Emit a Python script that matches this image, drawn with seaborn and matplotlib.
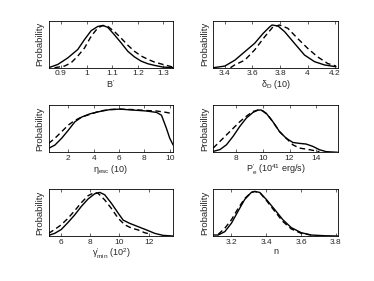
import numpy as np
import pandas as pd
import seaborn as sns
import matplotlib
matplotlib.use("Agg")
import matplotlib.pyplot as plt

# ---- data: normalised posterior densities ----
# B'
b_x_solid = [0.852, 0.888, 0.927, 0.966, 0.992, 1.018, 1.044, 1.064, 1.083, 1.109, 1.135, 1.161,
             1.187, 1.213, 1.239, 1.265, 1.298, 1.337]
b_y_solid = [0.0, 0.07, 0.21, 0.39, 0.60, 0.79, 0.88, 0.90, 0.86, 0.70, 0.53, 0.35,
             0.23, 0.14, 0.085, 0.05, 0.014, 0.0]
b_x_dash = [0.875, 0.914, 0.940, 0.966, 0.992, 1.018, 1.044, 1.064, 1.083, 1.109, 1.135, 1.161,
            1.187, 1.213, 1.239, 1.265, 1.298, 1.337]
b_y_dash = [0.0, 0.035, 0.106, 0.25, 0.42, 0.67, 0.85, 0.90, 0.88, 0.77, 0.63, 0.48,
            0.35, 0.25, 0.18, 0.12, 0.07, 0.014]

# delta_D
d_x_solid = [3.315, 3.399, 3.472, 3.544, 3.616, 3.677, 3.725, 3.742, 3.785, 3.833, 3.905, 3.978, 4.050, 4.122, 4.207]
d_y_solid = [0.0, 0.035, 0.16, 0.34, 0.52, 0.73, 0.87, 0.91, 0.89, 0.77, 0.52, 0.27, 0.13, 0.06, 0.02]
d_x_dash = [3.44, 3.472, 3.544, 3.616, 3.689, 3.749, 3.797, 3.857, 3.929, 4.002, 4.074, 4.146, 4.207]
d_y_dash = [0.0, 0.06, 0.16, 0.38, 0.66, 0.87, 0.91, 0.84, 0.62, 0.41, 0.23, 0.09, 0.035]

# eta_esc
e_x_solid = [0.45, 0.95, 1.48, 2.0, 2.52, 3.05, 3.71, 4.49, 5.28, 6.07, 7.12, 8.17, 8.96, 9.35, 9.74, 10.0, 10.27]
e_y_solid = [0.085, 0.155, 0.30, 0.47, 0.65, 0.75, 0.82, 0.87, 0.91, 0.92, 0.90, 0.88, 0.85, 0.79, 0.51, 0.30, 0.155]
e_x_dash = [0.45, 0.95, 1.48, 2.0, 2.52, 3.05, 3.71, 4.49, 5.28, 6.07, 7.12, 8.17, 8.96, 9.74, 10.27]
e_y_dash = [0.19, 0.30, 0.44, 0.58, 0.68, 0.75, 0.81, 0.88, 0.91, 0.92, 0.91, 0.89, 0.88, 0.85, 0.82]

# P_e
p_x_solid = [6.25, 6.75, 7.25, 7.75, 8.25, 8.75, 9.25, 9.625, 9.875, 10.25, 10.75, 11.25, 11.75,
             12.25, 12.75, 13.25, 13.75, 14.25, 14.75, 15.63]
p_y_solid = [0.02, 0.056, 0.16, 0.34, 0.55, 0.73, 0.85, 0.90, 0.90, 0.83, 0.65, 0.44, 0.30,
             0.21, 0.19, 0.176, 0.127, 0.056, 0.014, 0.0]
p_x_dash = [6.25, 6.75, 7.25, 7.75, 8.25, 8.75, 9.25, 9.625, 10.0, 10.375, 10.75, 11.25, 11.75,
            12.25, 12.75, 13.5, 14.25]
p_y_dash = [0.09, 0.23, 0.37, 0.51, 0.65, 0.77, 0.87, 0.90, 0.88, 0.79, 0.65, 0.44, 0.30,
            0.16, 0.09, 0.056, 0.014]

# gamma_min
g_x_solid = [5.19, 5.60, 6.05, 6.51, 6.96, 7.41, 7.87, 8.32, 8.66, 9.00, 9.45, 9.91, 10.25,
             10.70, 11.27, 11.84, 12.40, 12.97, 13.65]
g_y_solid = [0.014, 0.057, 0.14, 0.29, 0.45, 0.63, 0.79, 0.90, 0.93, 0.88, 0.70, 0.49, 0.34,
             0.27, 0.20, 0.13, 0.057, 0.014, 0.0]
g_x_dash = [5.19, 5.60, 6.05, 6.51, 6.96, 7.41, 7.87, 8.32, 8.55, 9.00, 9.45, 9.91, 10.36,
            10.81, 11.27, 11.72, 12.17]
g_y_dash = [0.057, 0.14, 0.24, 0.38, 0.54, 0.71, 0.86, 0.93, 0.91, 0.77, 0.59, 0.38, 0.24,
            0.17, 0.13, 0.07, 0.036]

# n
n_x_solid = [3.095, 3.124, 3.162, 3.2, 3.238, 3.276, 3.314, 3.333, 3.362, 3.4, 3.448, 3.495, 3.543, 3.6, 3.657, 3.733, 3.81]
n_y_solid = [0.022, 0.022, 0.094, 0.275, 0.53, 0.78, 0.93, 0.95, 0.93, 0.78, 0.565, 0.348, 0.18, 0.072, 0.022, 0.007, 0.0]
n_x_dash = [3.124, 3.162, 3.2, 3.238, 3.276, 3.314, 3.333, 3.362, 3.4, 3.448, 3.495, 3.543, 3.6, 3.657]
n_y_dash = [0.036, 0.167, 0.348, 0.587, 0.80, 0.93, 0.95, 0.93, 0.76, 0.53, 0.31, 0.152, 0.058, 0.022]

labels = [r"B$^{\prime}$", r"$\delta_D$ (10)", r"$\eta_{esc}$ (10)",
          r"P$^{\prime}_e$ (10$^{41}$ erg/s)", r"$\gamma^{\prime}_{min}$ (10$^2$)", "n"]
xlims = [(0.852, 1.338), (3.315, 4.219), (0.45, 10.27), (6.25, 15.63), (5.19, 13.65), (3.095, 3.81)]
xticks = [[0.9, 1, 1.1, 1.2, 1.3], [3.4, 3.6, 3.8, 4, 4.2], [2, 4, 6, 8, 10],
          [8, 10, 12, 14], [6, 8, 10, 12], [3.2, 3.4, 3.6, 3.8]]
ticklabels = [["0.9", "1", "1.1", "1.2", "1.3"], ["3.4", "3.6", "3.8", "4", "4.2"],
              ["2", "4", "6", "8", "10"], ["8", "10", "12", "14"], ["6", "8", "10", "12"],
              ["3.2", "3.4", "3.6", "3.8"]]

curves = [
    (b_x_solid, b_y_solid, b_x_dash, b_y_dash),
    (d_x_solid, d_y_solid, d_x_dash, d_y_dash),
    (e_x_solid, e_y_solid, e_x_dash, e_y_dash),
    (p_x_solid, p_y_solid, p_x_dash, p_y_dash),
    (g_x_solid, g_y_solid, g_x_dash, g_y_dash),
    (n_x_solid, n_y_solid, n_x_dash, n_y_dash),
]

sns.set_style("white")
plt.rcParams['font.family'] = ['Liberation Sans', 'DejaVu Sans']
plt.rcParams['mathtext.fontset'] = 'custom'
plt.rcParams['mathtext.rm'] = 'Liberation Sans'
plt.rcParams['mathtext.it'] = 'Liberation Sans'
plt.rcParams['mathtext.bf'] = 'Liberation Sans:bold'

fig = plt.figure(figsize=(3.74, 2.81), dpi=100)
lefts = [0.130, 0.570]
bottoms = [0.759, 0.458, 0.160]
w, h = 0.333, 0.167

for i, (xs, ys, xd, yd) in enumerate(curves):
    r, c = divmod(i, 2)
    ax = fig.add_axes([lefts[c], bottoms[r], w, h])
    sns.lineplot(x=xs, y=ys, ax=ax, color="k", lw=1.0, sort=False)
    sns.lineplot(x=xd, y=yd, ax=ax, color="k", lw=1.0, sort=False, dashes=False,
                 linestyle=(0, (4, 2.5)))
    ax.set_xlim(*xlims[i])
    ax.set_ylim(0, 1)
    ax.set_xticks(xticks[i])
    ax.set_xticklabels(ticklabels[i])
    ax.set_yticks([])
    ax.tick_params(axis="x", direction="in", top=True, bottom=True, length=2,
                   width=0.5, labelsize=6, pad=2)
    for s in ax.spines.values():
        s.set_linewidth(0.6)
        s.set_color("k")
    ax.set_xlabel(labels[i], fontsize=6.5, labelpad=0.5)
    ax.set_ylabel("Probability", fontsize=6.8, labelpad=3)

fig.savefig("out.png", dpi=100)
